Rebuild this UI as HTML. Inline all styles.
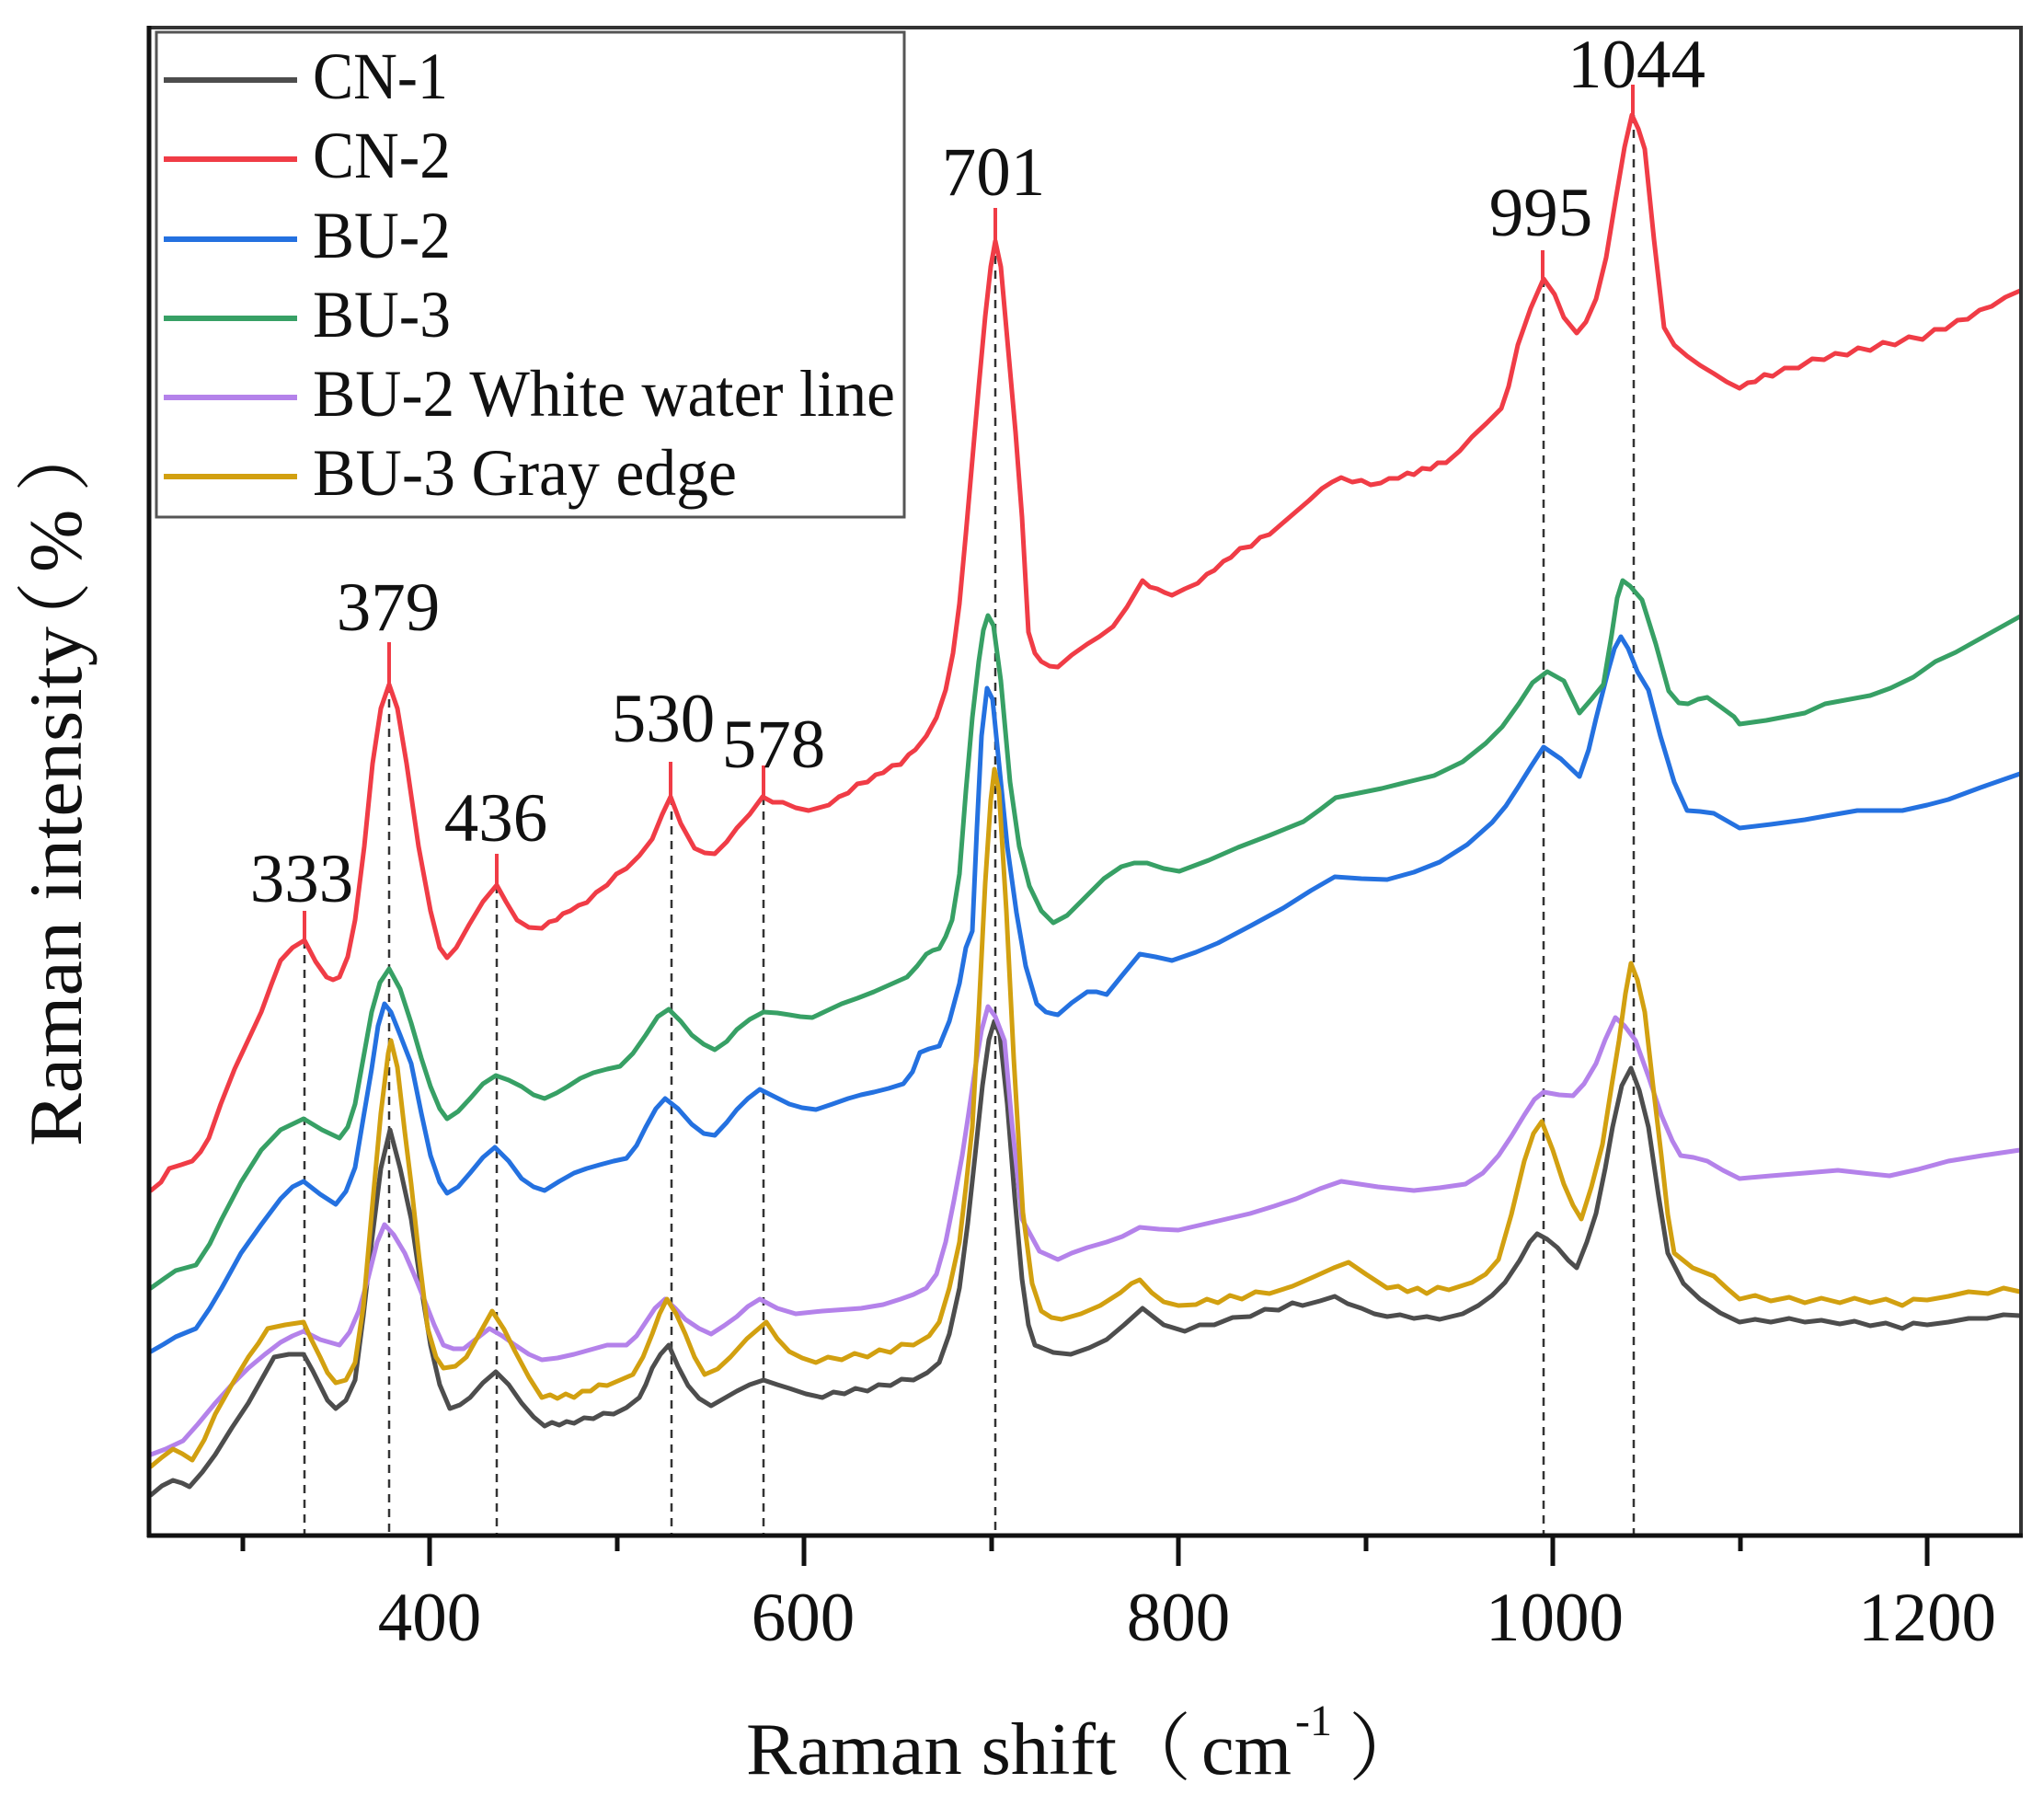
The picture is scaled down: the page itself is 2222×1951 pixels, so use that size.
<!DOCTYPE html>
<html>
<head>
<meta charset="utf-8">
<style>
  html, body { margin: 0; padding: 0; background: #ffffff; }
  svg { display: block; }
  .serif { font-family: "Liberation Serif", "Noto Serif CJK SC", serif; fill: #111; }
</style>
</head>
<body>
<svg width="2222" height="1951" viewBox="0 0 2222 1951" xmlns="http://www.w3.org/2000/svg">
  <rect x="0" y="0" width="2222" height="1951" fill="#ffffff"/>

  <!-- dashed guide lines -->
  <g stroke="#333" stroke-width="2.5" stroke-dasharray="9,7" fill="none">
    <line x1="331" y1="1022" x2="331" y2="1667"/>
    <line x1="423" y1="744" x2="423" y2="1667"/>
    <line x1="540" y1="962" x2="540" y2="1667"/>
    <line x1="730" y1="866" x2="730" y2="1667"/>
    <line x1="830" y1="866" x2="830" y2="1667"/>
    <line x1="1082" y1="262" x2="1082" y2="1667"/>
    <line x1="1678" y1="303" x2="1678" y2="1667"/>
    <line x1="1776" y1="125" x2="1776" y2="1667"/>
  </g>

  <g fill="none" stroke-width="5" stroke-linejoin="round" stroke-linecap="round">
    <!-- CN-1 dark gray -->
    <polyline stroke="#4d4d4d" points="164,1625 176,1615 188,1609 198,1612 206,1616 220,1600 234,1581 252,1552 270,1525 284,1500 298,1475 314,1472 330,1472 340,1490 348,1506 356,1522 365,1531 376,1522 386,1500 395,1430 404,1350 414,1270 424,1228 435,1270 447,1325 458,1400 468,1462 478,1505 489,1531 500,1527 511,1519 525,1503 539,1491 553,1505 567,1525 580,1540 592,1550 600,1546 608,1549 616,1545 624,1547 635,1541 645,1542 656,1536 667,1537 681,1530 695,1519 702,1505 709,1487 718,1472 727,1462 737,1485 748,1506 760,1520 773,1528 787,1520 801,1512 815,1505 830,1500 845,1505 858,1509 876,1515 894,1519 906,1513 918,1515 930,1509 943,1512 955,1505 968,1506 980,1499 993,1500 1008,1492 1021,1481 1032,1450 1043,1400 1052,1330 1060,1256 1068,1180 1075,1130 1081,1110 1087,1125 1095,1200 1103,1300 1111,1390 1118,1440 1125,1462 1145,1470 1164,1472 1184,1465 1203,1456 1222,1440 1242,1422 1265,1440 1288,1447 1304,1440 1320,1440 1340,1432 1359,1431 1375,1423 1390,1424 1405,1416 1416,1419 1435,1414 1451,1409 1465,1417 1480,1422 1494,1428 1508,1431 1522,1429 1537,1433 1551,1431 1565,1434 1590,1428 1607,1419 1622,1408 1636,1394 1652,1370 1663,1350 1671,1341 1682,1347 1693,1356 1705,1370 1714,1378 1725,1350 1735,1319 1745,1270 1753,1225 1763,1180 1773,1161 1782,1185 1792,1225 1803,1300 1813,1362 1830,1395 1848,1412 1870,1427 1891,1437 1908,1434 1925,1437 1945,1433 1962,1437 1980,1435 2000,1439 2016,1436 2033,1441 2050,1438 2068,1444 2080,1438 2095,1440 2118,1437 2140,1433 2160,1433 2178,1429 2196,1430"/>
    <!-- CN-2 red -->
    <polyline stroke="#f03c46" points="164,1294 175,1285 184,1270 197,1266 209,1262 218,1252 227,1237 240,1200 255,1162 270,1130 284,1100 295,1070 305,1044 318,1030 331,1022 343,1045 355,1062 362,1065 369,1062 378,1040 386,1000 396,920 405,830 414,770 423,744 432,770 442,830 455,920 468,990 478,1030 486,1041 496,1030 510,1005 525,980 540,962 550,980 562,1000 575,1008 589,1009 597,1002 605,1000 612,993 620,990 629,984 638,981 648,970 660,962 670,950 681,944 695,930 709,912 720,885 729,866 740,895 755,922 766,927 777,928 790,915 801,900 815,885 829,866 840,872 851,872 865,878 879,881 890,878 901,875 912,866 922,862 932,852 943,850 952,842 960,840 970,832 979,831 988,820 995,815 1007,800 1018,780 1028,750 1036,710 1043,656 1050,580 1057,500 1064,420 1071,344 1077,290 1082,262 1088,290 1096,380 1104,470 1111,562 1118,687 1125,710 1132,719 1141,724 1150,725 1165,712 1182,700 1195,692 1210,681 1225,660 1242,631 1250,638 1258,640 1266,644 1274,647 1288,640 1302,634 1312,624 1320,620 1330,610 1338,606 1348,596 1360,594 1370,584 1380,581 1395,568 1409,556 1423,544 1437,531 1448,524 1458,519 1470,524 1480,522 1490,527 1501,525 1510,520 1520,520 1530,514 1537,516 1546,509 1555,510 1563,503 1572,503 1587,490 1600,475 1616,460 1632,444 1640,420 1650,375 1664,335 1678,303 1690,320 1700,345 1714,362 1724,350 1735,325 1746,280 1756,219 1766,160 1774,125 1781,140 1788,162 1798,260 1809,356 1820,375 1834,387 1848,397 1863,406 1877,415 1891,422 1900,416 1908,415 1918,407 1927,409 1940,400 1955,400 1970,390 1983,391 1995,384 2008,386 2020,378 2033,381 2047,372 2060,375 2075,366 2090,369 2103,358 2115,358 2128,348 2139,347 2152,337 2165,333 2180,323 2196,316"/>
    <!-- BU-2 blue -->
    <polyline stroke="#2471e0" points="164,1469 178,1461 191,1453 213,1444 228,1422 241,1400 262,1362 284,1331 305,1303 318,1290 330,1284 348,1298 365,1309 376,1295 386,1269 395,1215 404,1162 411,1115 418,1091 425,1100 435,1125 447,1156 458,1210 468,1256 478,1285 486,1297 498,1290 511,1275 525,1258 538,1247 553,1262 567,1281 580,1290 592,1294 608,1284 624,1275 638,1270 652,1266 667,1262 681,1259 692,1245 702,1225 713,1205 723,1194 737,1205 752,1222 765,1232 777,1234 790,1220 801,1206 813,1194 826,1184 842,1192 858,1200 872,1204 887,1206 905,1200 922,1194 936,1190 950,1187 966,1183 982,1178 992,1165 1000,1144 1010,1140 1021,1137 1032,1110 1043,1069 1050,1030 1057,1012 1062,900 1067,800 1073,748 1079,760 1086,830 1095,920 1105,992 1115,1050 1127,1091 1137,1100 1145,1102 1150,1103 1165,1090 1182,1078 1192,1078 1203,1081 1220,1060 1239,1037 1256,1040 1274,1044 1300,1035 1324,1025 1360,1006 1395,987 1425,968 1451,953 1480,955 1508,956 1537,948 1565,937 1595,918 1622,894 1637,876 1650,856 1665,832 1678,812 1697,825 1717,844 1727,815 1735,781 1748,730 1755,705 1762,692 1770,705 1780,730 1792,750 1805,800 1820,850 1834,881 1848,882 1863,884 1877,892 1891,900 1925,896 1962,891 1990,886 2019,881 2068,881 2095,875 2118,869 2153,856 2196,841"/>
    <!-- BU-3 green -->
    <polyline stroke="#37a065" points="164,1400 178,1390 191,1381 213,1375 228,1352 241,1325 262,1285 284,1250 305,1228 330,1216 350,1228 369,1237 378,1225 386,1200 395,1150 404,1100 413,1068 423,1053 435,1075 447,1112 458,1150 468,1181 478,1205 486,1216 498,1208 511,1194 525,1178 539,1169 553,1174 567,1181 580,1190 592,1194 605,1188 617,1181 631,1172 645,1166 660,1162 674,1159 688,1145 702,1125 715,1105 727,1097 740,1110 752,1125 765,1135 777,1141 790,1132 801,1119 815,1108 830,1100 845,1101 858,1103 870,1105 883,1106 900,1098 915,1091 932,1085 950,1078 968,1070 986,1062 997,1050 1007,1037 1014,1033 1021,1031 1028,1018 1035,1000 1043,950 1050,860 1057,780 1064,719 1069,685 1074,669 1080,680 1088,740 1098,850 1108,920 1119,963 1132,990 1145,1003 1160,995 1180,975 1200,955 1219,942 1233,938 1247,938 1265,944 1282,947 1314,935 1346,921 1380,908 1417,893 1435,880 1452,867 1477,862 1502,857 1530,850 1559,843 1590,828 1615,808 1633,790 1651,765 1666,742 1682,730 1700,740 1717,775 1730,760 1743,744 1752,690 1758,650 1764,631 1772,637 1785,652 1800,700 1814,751 1825,764 1835,765 1846,760 1856,758 1870,768 1885,779 1891,787 1920,783 1962,775 1984,765 2033,756 2055,748 2080,736 2104,719 2126,709 2160,690 2196,670"/>
    <!-- BU-2 White water line purple -->
    <polyline stroke="#b482ea" points="164,1581 180,1575 199,1566 215,1548 234,1525 252,1505 270,1487 288,1472 305,1459 318,1452 330,1447 348,1456 369,1462 380,1448 390,1425 400,1390 410,1350 418,1331 428,1342 440,1362 450,1385 461,1412 472,1440 482,1462 493,1466 504,1466 518,1455 532,1444 546,1452 560,1462 575,1472 589,1478 606,1476 624,1472 642,1467 660,1462 681,1462 692,1452 702,1437 712,1422 723,1412 734,1422 745,1434 760,1444 773,1450 787,1441 801,1431 813,1420 826,1412 845,1422 865,1428 894,1425 936,1422 960,1418 979,1412 993,1407 1007,1400 1018,1385 1028,1350 1037,1305 1046,1256 1053,1210 1060,1162 1067,1120 1074,1094 1082,1105 1092,1131 1100,1220 1111,1325 1130,1360 1150,1369 1165,1362 1182,1356 1203,1350 1220,1344 1239,1334 1260,1336 1281,1337 1320,1328 1359,1319 1385,1311 1409,1303 1435,1292 1458,1284 1498,1290 1537,1294 1565,1291 1593,1287 1612,1275 1629,1256 1643,1235 1657,1212 1668,1195 1678,1187 1695,1190 1710,1191 1722,1178 1735,1156 1745,1130 1756,1106 1766,1115 1778,1131 1792,1170 1806,1212 1818,1240 1827,1256 1841,1258 1856,1262 1873,1272 1891,1281 1925,1278 1962,1275 1998,1272 2025,1275 2054,1278 2085,1271 2118,1262 2155,1256 2196,1250"/>
    <!-- BU-3 Gray edge gold -->
    <polyline stroke="#d2a010" points="164,1594 176,1584 188,1575 198,1580 209,1587 222,1565 234,1537 252,1505 270,1475 281,1460 291,1444 310,1440 330,1437 338,1455 348,1475 356,1492 365,1503 376,1500 386,1481 395,1420 404,1319 414,1210 422,1145 425,1131 432,1160 440,1230 447,1287 456,1370 465,1444 474,1475 482,1487 495,1485 507,1475 521,1450 535,1425 548,1445 560,1469 575,1497 589,1519 598,1516 606,1520 615,1515 624,1519 633,1512 642,1512 651,1505 660,1506 674,1500 688,1494 699,1475 709,1450 717,1428 725,1412 735,1428 745,1450 755,1475 766,1494 780,1488 794,1475 812,1455 833,1437 845,1455 858,1469 872,1476 887,1481 900,1475 915,1478 929,1471 943,1475 956,1467 968,1470 980,1461 993,1462 1010,1452 1021,1437 1032,1400 1043,1350 1050,1290 1057,1225 1064,1100 1071,960 1077,870 1081,836 1086,860 1094,990 1102,1150 1112,1318 1122,1395 1132,1425 1143,1432 1154,1434 1175,1428 1196,1419 1218,1405 1230,1395 1239,1391 1252,1405 1265,1415 1281,1419 1300,1418 1312,1412 1324,1416 1337,1408 1350,1412 1365,1404 1380,1406 1405,1398 1430,1387 1450,1378 1466,1372 1485,1385 1508,1400 1520,1398 1530,1404 1541,1400 1551,1406 1563,1399 1575,1402 1600,1394 1615,1385 1629,1369 1643,1320 1657,1262 1667,1232 1676,1219 1688,1250 1700,1287 1710,1310 1719,1325 1730,1290 1742,1244 1752,1180 1760,1131 1767,1080 1773,1047 1780,1065 1788,1100 1797,1180 1806,1256 1813,1320 1820,1362 1840,1378 1863,1387 1877,1400 1891,1412 1908,1408 1925,1414 1945,1410 1962,1416 1980,1411 2000,1416 2016,1411 2033,1416 2050,1412 2068,1419 2080,1412 2095,1413 2118,1409 2140,1404 2161,1406 2178,1400 2196,1404"/>
  </g>

  <!-- red peak markers -->
  <g stroke="#f03c46" stroke-width="4">
    <line x1="331" y1="990" x2="331" y2="1022"/>
    <line x1="423" y1="698" x2="423" y2="744"/>
    <line x1="540" y1="928" x2="540" y2="962"/>
    <line x1="729" y1="828" x2="729" y2="866"/>
    <line x1="830" y1="832" x2="830" y2="866"/>
    <line x1="1082" y1="226" x2="1082" y2="262"/>
    <line x1="1677" y1="272" x2="1677" y2="303"/>
    <line x1="1775" y1="92" x2="1775" y2="125"/>
  </g>

  <!-- peak labels -->
  <g class="serif" font-size="75" text-anchor="middle">
    <text x="328" y="980">333</text>
    <text x="422" y="685">379</text>
    <text x="539" y="914">436</text>
    <text x="721" y="806">530</text>
    <text x="841" y="834">578</text>
    <text x="1080" y="212">701</text>
    <text x="1675" y="256">995</text>
    <text x="1779" y="95">1044</text>
  </g>

  <!-- frame -->
  <line x1="160" y1="30" x2="2199" y2="30" stroke="#333" stroke-width="4"/>
  <line x1="2197" y1="28" x2="2197" y2="1671" stroke="#333" stroke-width="4"/>
  <line x1="162" y1="28" x2="162" y2="1671" stroke="#111" stroke-width="5"/>
  <line x1="160" y1="1669" x2="2199" y2="1669" stroke="#111" stroke-width="5"/>

  <!-- ticks -->
  <g stroke="#111" stroke-width="5">
    <line x1="467" y1="1669" x2="467" y2="1702"/>
    <line x1="874" y1="1669" x2="874" y2="1702"/>
    <line x1="1281" y1="1669" x2="1281" y2="1702"/>
    <line x1="1688" y1="1669" x2="1688" y2="1702"/>
    <line x1="2095" y1="1669" x2="2095" y2="1702"/>
    <line x1="264" y1="1669" x2="264" y2="1686"/>
    <line x1="671" y1="1669" x2="671" y2="1686"/>
    <line x1="1078" y1="1669" x2="1078" y2="1686"/>
    <line x1="1485" y1="1669" x2="1485" y2="1686"/>
    <line x1="1892" y1="1669" x2="1892" y2="1686"/>
  </g>

  <!-- tick labels -->
  <g class="serif" font-size="75" text-anchor="middle">
    <text x="467" y="1783">400</text>
    <text x="873" y="1783">600</text>
    <text x="1281" y="1783">800</text>
    <text x="1690" y="1783">1000</text>
    <text x="2095" y="1783">1200</text>
  </g>

  <!-- x axis title -->
  <g class="serif">
    <text x="811" y="1928" font-size="80" textLength="403" lengthAdjust="spacingAndGlyphs">Raman shift</text>
    <text x="1215" y="1928" font-size="80">（</text>
    <text x="1306" y="1928" font-size="80" textLength="98" lengthAdjust="spacingAndGlyphs">cm</text>
    <text x="1408" y="1886" font-size="48">-1</text>
    <text x="1466" y="1928" font-size="80">）</text>
  </g>

  <!-- y axis title -->
  <g class="serif" transform="translate(88,1246) rotate(-90)">
    <text x="0" y="0" font-size="82" textLength="565" lengthAdjust="spacingAndGlyphs">Raman intensity</text>
    <text x="532" y="0" font-size="82">（</text>
    <text x="624" y="0" font-size="82">%</text>
    <text x="711" y="0" font-size="82">）</text>
  </g>

  <!-- legend -->
  <rect x="170" y="35" width="813" height="527" fill="#ffffff" stroke="#555" stroke-width="3"/>
  <g stroke-width="6" stroke-linecap="butt">
    <line x1="178" y1="87" x2="323" y2="87" stroke="#4d4d4d"/>
    <line x1="178" y1="173" x2="323" y2="173" stroke="#f03c46"/>
    <line x1="178" y1="260" x2="323" y2="260" stroke="#2471e0"/>
    <line x1="178" y1="346" x2="323" y2="346" stroke="#37a065"/>
    <line x1="178" y1="432" x2="323" y2="432" stroke="#b482ea"/>
    <line x1="178" y1="518" x2="323" y2="518" stroke="#d2a010"/>
  </g>
  <g class="serif" font-size="72">
    <text x="340" y="107" textLength="147" lengthAdjust="spacingAndGlyphs">CN-1</text>
    <text x="340" y="193" textLength="150" lengthAdjust="spacingAndGlyphs">CN-2</text>
    <text x="340" y="280" textLength="150" lengthAdjust="spacingAndGlyphs">BU-2</text>
    <text x="340" y="366" textLength="150" lengthAdjust="spacingAndGlyphs">BU-3</text>
    <text x="340" y="452" textLength="633" lengthAdjust="spacingAndGlyphs">BU-2 White water line</text>
    <text x="340" y="538" textLength="461" lengthAdjust="spacingAndGlyphs">BU-3 Gray edge</text>
  </g>
</svg>
</body>
</html>
